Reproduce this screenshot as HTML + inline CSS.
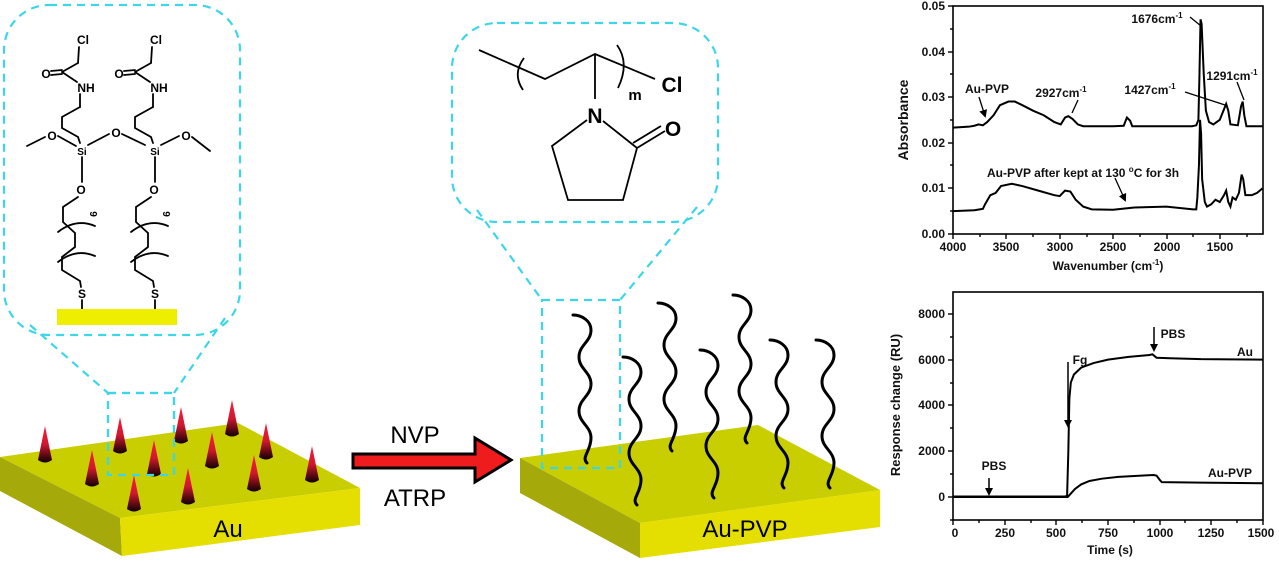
<!DOCTYPE html>
<html><head><meta charset="utf-8"><style>
html,body{margin:0;padding:0;background:#fff;}
svg{display:block;font-family:"Liberation Sans",Arial,sans-serif;}
.b{font-weight:bold;font-size:12px;fill:#111;}
.m{font-size:12px;fill:#000;font-weight:bold;}
</style></head><body>
<svg width="1279" height="562" viewBox="0 0 1279 562" xmlns="http://www.w3.org/2000/svg">
<defs>
<linearGradient id="cg" x1="0" y1="0" x2="0" y2="1">
<stop offset="0" stop-color="#ff1a3a"/><stop offset="0.5" stop-color="#d01830"/><stop offset="1" stop-color="#100000"/>
</linearGradient>
<path id="ch" d="M0,0 C9,0 18,6 18,15 C18,27 6,30 6,42 C6,54 18,57 18,69 C18,81 6,84 6,96 C6,108 18,111 18,123 C18,136 8,142 14,148" fill="none" stroke="#000" stroke-width="3" stroke-linecap="round"/>
<g id="cone"><path d="M0,-36 L-7,-2 Q0,3 7,-2 Z" fill="url(#cg)"/></g>
<marker id="ah" markerWidth="8" markerHeight="8" refX="6" refY="4" orient="auto" markerUnits="userSpaceOnUse"><path d="M0,0 L8,4 L0,8 Z" fill="#000"/></marker>
</defs>

<g fill="none" stroke="#3dd6e8" stroke-width="2.2" stroke-dasharray="8,6">
<rect x="4" y="5" width="236" height="330" rx="45"/>
<line x1="30" y1="325" x2="108" y2="393"/>
<line x1="225" y1="318" x2="174" y2="393"/>
<rect x="108" y="393" width="66" height="82"/>
</g>
<g stroke="#000" stroke-width="1.8" fill="none" stroke-linecap="round">
<g id="mol">
<line x1="79" y1="47" x2="78" y2="63"/>
<line x1="78" y1="63" x2="62" y2="72"/>
<line x1="62" y1="70" x2="51" y2="71"/>
<line x1="62" y1="74" x2="51" y2="75"/>
<line x1="62" y1="72" x2="77" y2="82"/>
<line x1="80" y1="94" x2="80" y2="107"/>
<polyline points="80,107 62,117 62,128 78,137 80,143"/>
<line x1="82" y1="157" x2="82" y2="182"/>
<polyline points="78,197 63,207 63,222 75,233 75,247 62,257 62,270 80,281 81,287"/>
<path d="M58,232 Q76,218 95,226"/>
<path d="M58,262 Q76,248 95,256"/>
<line x1="82" y1="300" x2="82" y2="310"/>
</g>
<use href="#mol" x="73"/>
<line x1="27" y1="146" x2="45" y2="137"/>
<line x1="58" y1="136" x2="76" y2="146"/>
<line x1="88" y1="145" x2="109" y2="134"/>
<line x1="122" y1="134" x2="145" y2="145"/>
<line x1="161" y1="145" x2="179" y2="136"/>
<line x1="192" y1="137" x2="210" y2="151"/>
</g>
<g class="m" text-anchor="middle">
<text x="83" y="44">Cl</text><text x="156" y="44">Cl</text>
<text x="46" y="78">O</text><text x="119" y="78">O</text>
<text x="86" y="92">NH</text><text x="159" y="92">NH</text>
<text x="82" y="155" font-size="10">Si</text><text x="155" y="155" font-size="10">Si</text>
<text x="52" y="140">O</text><text x="116" y="137">O</text><text x="186" y="140">O</text>
<text x="81" y="194">O</text><text x="154" y="194">O</text>
<text x="94" y="218" font-size="10" transform="rotate(90 94 214)">9</text>
<text x="167" y="218" font-size="10" transform="rotate(90 167 214)">9</text>
<text x="82" y="298">S</text><text x="155" y="298">S</text>
</g>
<rect x="57" y="309" width="120" height="16" fill="#eeee00"/>

<polygon points="0,457 238,423 360,488 120,518" fill="#c9ce00"/>
<polygon points="0,457 120,518 122,556 0,491" fill="#a5aa0a"/>
<polygon points="120,518 360,488 360,525 122,556" fill="#e4df00"/>
<text x="228" y="537" font-size="24" text-anchor="middle" fill="#000">Au</text>
<use href="#cone" x="45" y="462"/><use href="#cone" x="120" y="453"/><use href="#cone" x="181" y="443"/>
<use href="#cone" x="232" y="436"/><use href="#cone" x="154" y="476"/><use href="#cone" x="92" y="486"/>
<use href="#cone" x="212" y="468"/><use href="#cone" x="266" y="459"/><use href="#cone" x="134" y="511"/>
<use href="#cone" x="188" y="504"/><use href="#cone" x="254" y="491"/><use href="#cone" x="312" y="482"/>
<g fill="none" stroke="#3dd6e8" stroke-width="2.2" stroke-dasharray="8,6"><rect x="108" y="393" width="66" height="82"/></g>

<text x="415" y="443" font-size="24" text-anchor="middle">NVP</text>
<text x="415" y="506" font-size="24" text-anchor="middle">ATRP</text>
<polygon points="353,454 475,454 475,438 511,460 475,482 475,468 353,468" fill="#ee1c1c" stroke="#000" stroke-width="3" stroke-linejoin="miter"/>

<g fill="none" stroke="#3dd6e8" stroke-width="2.2" stroke-dasharray="8,6">
<rect x="452" y="23" width="266" height="199" rx="45"/>
<line x1="477" y1="210" x2="542" y2="300"/>
<line x1="697" y1="207" x2="620" y2="300"/>
</g>
<g stroke="#000" stroke-width="1.8" fill="none">
<polyline points="479,50 545,79 595,54 655,79"/>
<path d="M524,58 Q512,74 523,90"/>
<path d="M617,45 Q630,63 618,88"/>
<line x1="595" y1="54" x2="595" y2="99"/>
<polyline points="587,120 552,146 568,200 623,200 637,148 603,121"/>
<line x1="637" y1="148" x2="665" y2="131"/>
<line x1="633" y1="143" x2="661" y2="126"/>
</g>
<text x="595" y="123" font-size="21" font-weight="bold" text-anchor="middle">N</text>
<text x="673" y="136" font-size="21" font-weight="bold" text-anchor="middle">O</text>
<text x="672" y="92" font-size="21" font-weight="bold" text-anchor="middle">Cl</text>
<text x="635" y="100" font-size="15" font-weight="bold" text-anchor="middle">m</text>

<polygon points="520,458 758,425 880,490 640,523" fill="#c9ce00"/>
<polygon points="520,458 640,523 640,558 520,493" fill="#a5aa0a"/>
<polygon points="640,523 880,490 880,527 640,558" fill="#e4df00"/>
<text x="745" y="537" font-size="24" text-anchor="middle" fill="#000">Au-PVP</text>
<g fill="none" stroke="#3dd6e8" stroke-width="2.2" stroke-dasharray="8,6"><rect x="542" y="300" width="78" height="168"/></g>
<use href="#ch" x="573" y="315"/>
<use href="#ch" x="623" y="357"/>
<use href="#ch" x="658" y="303"/>
<use href="#ch" x="700" y="350"/>
<use href="#ch" x="733" y="295"/>
<use href="#ch" x="770" y="340"/>
<use href="#ch" x="816" y="340"/>

<rect x="953" y="6" width="310" height="228" fill="none" stroke="#000" stroke-width="1.6"/>
<g stroke="#000" stroke-width="1.4">
<line x1="953" y1="234" x2="953" y2="239"/><line x1="1006" y1="234" x2="1006" y2="239"/><line x1="1060" y1="234" x2="1060" y2="239"/><line x1="1113" y1="234" x2="1113" y2="239"/><line x1="1167" y1="234" x2="1167" y2="239"/><line x1="1220" y1="234" x2="1220" y2="239"/>
<line x1="980" y1="234" x2="980" y2="237"/><line x1="1033" y1="234" x2="1033" y2="237"/><line x1="1087" y1="234" x2="1087" y2="237"/><line x1="1140" y1="234" x2="1140" y2="237"/><line x1="1193" y1="234" x2="1193" y2="237"/><line x1="1247" y1="234" x2="1247" y2="237"/>
<line x1="948" y1="6" x2="953" y2="6"/><line x1="948" y1="52" x2="953" y2="52"/><line x1="948" y1="97" x2="953" y2="97"/><line x1="948" y1="143" x2="953" y2="143"/><line x1="948" y1="188" x2="953" y2="188"/><line x1="948" y1="234" x2="953" y2="234"/>
<line x1="950" y1="29" x2="953" y2="29"/><line x1="950" y1="74" x2="953" y2="74"/><line x1="950" y1="120" x2="953" y2="120"/><line x1="950" y1="165" x2="953" y2="165"/><line x1="950" y1="211" x2="953" y2="211"/>
</g>
<g class="b" text-anchor="end">
<text x="945" y="10">0.05</text><text x="945" y="56">0.04</text><text x="945" y="101">0.03</text><text x="945" y="147">0.02</text><text x="945" y="192">0.01</text><text x="945" y="238">0.00</text>
</g>
<g class="b" text-anchor="middle">
<text x="953" y="251">4000</text><text x="1006" y="251">3500</text><text x="1060" y="251">3000</text><text x="1113" y="251">2500</text><text x="1167" y="251">2000</text><text x="1220" y="251">1500</text>
<text x="1108" y="270">Wavenumber (cm<tspan dy="-5" font-size="8">-1</tspan><tspan dy="5">)</tspan></text>
<text x="908" y="120" transform="rotate(-90 908 120)" font-size="14">Absorbance</text>
</g>
<g transform="translate(1379.8,234) scale(-0.1067,-4567)" fill="none" stroke="#000">
<polyline vector-effect="non-scaling-stroke" stroke-width="2" points="4000,0.0233 3850,0.0235 3800,0.0237 3760,0.024 3720,0.0238 3680,0.0245 3620,0.026 3560,0.0282 3480,0.029 3420,0.029 3350,0.0282 3250,0.027 3150,0.026 3050,0.0245 2990,0.024 2950,0.0255 2920,0.0258 2880,0.0252 2830,0.024 2780,0.0236 2500,0.0236 2400,0.0237 2370,0.0255 2340,0.0248 2320,0.0236 1760,0.0236 1720,0.0238 1700,0.025 1690,0.035 1680,0.047 1670,0.046 1650,0.035 1630,0.027 1600,0.0245 1560,0.024 1500,0.025 1440,0.0285 1420,0.027 1400,0.024 1330,0.0238 1300,0.028 1285,0.029 1270,0.026 1250,0.0236 1100,0.0236"/>
<polyline vector-effect="non-scaling-stroke" stroke-width="2" points="4000,0.005 3800,0.0052 3720,0.0055 3700,0.0065 3650,0.0085 3600,0.009 3550,0.0105 3450,0.011 3350,0.0105 3200,0.0095 3050,0.0085 3000,0.0083 2950,0.0095 2900,0.0093 2850,0.0075 2780,0.006 2700,0.0054 2500,0.0053 2300,0.0058 2000,0.006 1750,0.0054 1720,0.0054 1710,0.008 1695,0.015 1685,0.025 1675,0.022 1665,0.012 1640,0.007 1620,0.006 1580,0.0065 1540,0.0075 1500,0.007 1460,0.0085 1440,0.0095 1420,0.007 1400,0.006 1380,0.008 1350,0.0075 1320,0.009 1295,0.013 1280,0.012 1260,0.0085 1200,0.0085 1150,0.009 1100,0.010"/>
</g>
<g stroke="#000" stroke-width="1.3" fill="none">
<line x1="1190" y1="17" x2="1201" y2="26"/>
<line x1="1237" y1="82" x2="1244" y2="100"/>
<line x1="1185" y1="92" x2="1225" y2="105"/>
<line x1="1078" y1="100" x2="1072" y2="113"/>
<line x1="979" y1="97" x2="985" y2="116" marker-end="url(#ah)"/>
<line x1="1115" y1="178" x2="1125" y2="200" marker-end="url(#ah)"/>
</g>
<g class="b" text-anchor="middle">
<text x="1157" y="23">1676cm<tspan dy="-5" font-size="8">-1</tspan></text>
<text x="1232" y="80">1291cm<tspan dy="-5" font-size="8">-1</tspan></text>
<text x="1150" y="94">1427cm<tspan dy="-5" font-size="8">-1</tspan></text>
<text x="1061" y="97">2927cm<tspan dy="-5" font-size="8">-1</tspan></text>
<text x="987" y="93">Au-PVP</text>
<text x="1083" y="177">Au-PVP after kept at 130 <tspan dy="-5" font-size="8">o</tspan><tspan dy="5">C for 3h</tspan></text>
</g>

<rect x="953" y="292" width="310" height="228" fill="none" stroke="#000" stroke-width="1.6"/>
<g stroke="#000" stroke-width="1.4">
<line x1="953" y1="520" x2="953" y2="525"/><line x1="1005" y1="520" x2="1005" y2="525"/><line x1="1056" y1="520" x2="1056" y2="525"/><line x1="1108" y1="520" x2="1108" y2="525"/><line x1="1160" y1="520" x2="1160" y2="525"/><line x1="1211" y1="520" x2="1211" y2="525"/><line x1="1263" y1="520" x2="1263" y2="525"/>
<line x1="979" y1="520" x2="979" y2="523"/><line x1="1031" y1="520" x2="1031" y2="523"/><line x1="1082" y1="520" x2="1082" y2="523"/><line x1="1134" y1="520" x2="1134" y2="523"/><line x1="1185" y1="520" x2="1185" y2="523"/><line x1="1237" y1="520" x2="1237" y2="523"/>
<line x1="948" y1="314" x2="953" y2="314"/><line x1="948" y1="360" x2="953" y2="360"/><line x1="948" y1="405" x2="953" y2="405"/><line x1="948" y1="451" x2="953" y2="451"/><line x1="948" y1="497" x2="953" y2="497"/>
<line x1="950" y1="337" x2="953" y2="337"/><line x1="950" y1="383" x2="953" y2="383"/><line x1="950" y1="428" x2="953" y2="428"/><line x1="950" y1="474" x2="953" y2="474"/><line x1="950" y1="520" x2="953" y2="520"/>
</g>
<g class="b" text-anchor="end">
<text x="945" y="318">8000</text><text x="945" y="364">6000</text><text x="945" y="409">4000</text><text x="945" y="455">2000</text><text x="945" y="501">0</text>
</g>
<g class="b" text-anchor="middle">
<text x="955" y="537">0</text><text x="1005" y="537">250</text><text x="1056" y="537">500</text><text x="1108" y="537">750</text><text x="1160" y="537">1000</text><text x="1211" y="537">1250</text><text x="1261" y="537">1500</text>
<text x="1110" y="554">Time (s)</text>
<text x="900" y="405" transform="rotate(-90 900 405)" font-size="13">Response change (RU)</text>
<text x="994" y="470">PBS</text>
<text x="1080" y="364">Fg</text>
<text x="1173" y="338">PBS</text>
<text x="1245" y="356">Au</text>
<text x="1230" y="477">Au-PVP</text>
</g>
<g transform="translate(953,497) scale(0.2067,-0.0229)" fill="none" stroke="#000">
<polyline vector-effect="non-scaling-stroke" stroke-width="2" points="0,20 540,20 552,50 558,2000 563,4300 570,5000 585,5350 620,5650 680,5850 750,6000 850,6120 950,6200 965,6230 985,6080 1050,6060 1200,6020 1500,6000"/>
<polyline vector-effect="non-scaling-stroke" stroke-width="2" points="0,0 555,0 570,150 590,350 620,550 660,700 720,800 800,880 900,930 970,960 985,930 1000,750 1010,650 1200,630 1500,600"/>
</g>
<g stroke="#000" stroke-width="1.5" fill="none">
<line x1="989" y1="478" x2="989" y2="494" marker-end="url(#ah)"/>
<line x1="1068" y1="362" x2="1068" y2="426" marker-end="url(#ah)"/>
<line x1="1154" y1="327" x2="1154" y2="350" marker-end="url(#ah)"/>
</g>
</svg>
</body></html>
